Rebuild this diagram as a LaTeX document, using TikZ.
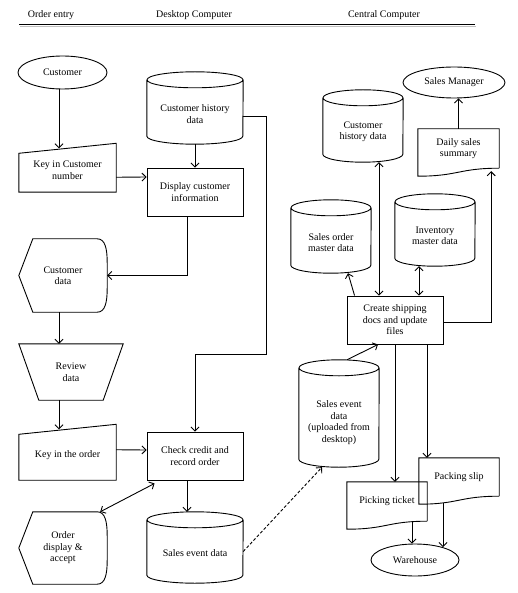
\documentclass[tikz,border=0pt]{standalone}
\usepackage{fontspec}
\setmainfont{Liberation Serif}
\usepackage{tikz}
\usetikzlibrary{shapes.geometric,arrows.meta}

\begin{document}
\begin{tikzpicture}[
    x=1pt, y=-1pt,
    every node/.style={font=\fontsize{10}{11.5}\selectfont, align=center, inner sep=0pt},
    pen/.style={line width=0.9pt},
    flow/.style={pen, -{Straight Barb[length=4pt,width=8pt]}},
    biflow/.style={pen, {Straight Barb[length=4pt,width=8pt]}-{Straight Barb[length=4pt,width=8pt]}},
    terminal/.style 2 args={ellipse, draw, pen, minimum width=#1, minimum height=#2},
    process/.style={rectangle, draw, pen, minimum width=96pt, minimum height=48pt},
    % cylinder, text sits #3 lower than the middle
    db/.style n args={3}{minimum width=#1, minimum height=#2-#3,
        append after command={\pgfextra{
            \draw[pen] ([yshift=#3-8pt]\tikzlastnode.north west) -- ([yshift=8pt]\tikzlastnode.south west)
                arc[start angle=180, end angle=360, x radius=#1/2, y radius=8pt]
                -- ([yshift=#3-8pt]\tikzlastnode.north east)
                ([yshift=#3-8pt]\tikzlastnode.north) ellipse[x radius=#1/2, y radius=8pt];}}},
    manual/.style={minimum width=97pt, minimum height=#1,
        append after command={\pgfextra{
            \draw[pen] ([yshift=-5pt]\tikzlastnode.north west) -- ([yshift=5pt]\tikzlastnode.north east)
                -- (\tikzlastnode.south east) -- (\tikzlastnode.south west) -- cycle;}}},
    manualop/.style={minimum width=104pt, minimum height=56pt,
        append after command={\pgfextra{
            \draw[pen] (\tikzlastnode.north west) -- (\tikzlastnode.north east)
                -- ([xshift=-20pt]\tikzlastnode.south east) -- ([xshift=20pt]\tikzlastnode.south west) -- cycle;}}},
    display/.style={minimum width=88pt, minimum height=#1,
        append after command={\pgfextra{
            \draw[pen] ([xshift=14pt]\tikzlastnode.north west) -- ([xshift=-10pt]\tikzlastnode.north east)
                .. controls ([xshift=-2pt]\tikzlastnode.north east) and ([yshift=-10pt]\tikzlastnode.north east) .. ([yshift=-24pt]\tikzlastnode.north east)
                -- ([yshift=24pt]\tikzlastnode.south east)
                .. controls ([yshift=10pt]\tikzlastnode.south east) and ([xshift=-2pt]\tikzlastnode.south east) .. ([xshift=-10pt]\tikzlastnode.south east)
                -- ([xshift=14pt]\tikzlastnode.south west) -- (\tikzlastnode.west) -- cycle;}}},
    doc/.style 2 args={minimum width=#1, minimum height=#2,
        append after command={\pgfextra{
            \draw[pen] (\tikzlastnode.south east) -- (\tikzlastnode.north east) -- (\tikzlastnode.north west)
                -- ([yshift=-8pt]\tikzlastnode.south west)
                .. controls ([xshift=#1/2,yshift=-8pt]\tikzlastnode.south west) and ([xshift=-#1/2]\tikzlastnode.south east) .. (\tikzlastnode.south east);}}}
]
\useasboundingbox (0,0) rectangle (517,593);

% headings
\node (hdrorder) at (51,15) {Order entry};
\node (hdrdesk) at (194,15) {Desktop Computer};
\node (hdrcentral) at (384,15) {Central Computer};
\draw[line width=1.5pt, black!25] (20,26.5) -- (476,26.5);
\draw[line width=1.8pt] (19,24.5) -- (475,24.5);

% order entry and desktop
\node[terminal={89pt}{33pt}] (cust) at (62.5,72.5) {Customer};
\node[db={96pt}{72pt}{12pt}] (hist) at (195,114) {Customer history\\data};
\node[manual=43.5pt] (keycust) at (67.5,170.25) {Key in Customer\\number};
\node[process] (disp) at (195,192) {Display customer\\information};
\node[display=73pt] (custdata) at (63,275.5) {Customer\\data};
\node[manualop] (review) at (71,372) {Review\\data};
\node[manual=50.5pt] (keyorder) at (67.5,454.75) {Key in the order};
\node[process] (check) at (195,456) {Check credit and\\record order};
\node[display=72pt] (orderdisp) at (63,548) {Order\\display \&\\accept};
\node[db={96pt}{71pt}{12pt}] (sed) at (195,553.5) {Sales event data};

% central computer
\node[terminal={102pt}{31pt}] (mgr) at (454,82.5) {Sales Manager};
\node[db={80pt}{72pt}{12pt}] (chist) at (363,132) {Customer\\history data};
\node[doc={81pt}{39pt}] (daily) at (458.5,148.5) {Daily sales\\summary};
\node[db={80pt}{73pt}{12pt}] (somd) at (331,242.5) {Sales order\\master data};
\node[db={80pt}{72pt}{12pt}] (inv) at (435,236) {Inventory\\master data};
\node[process] (create) at (395,320) {Create shipping\\docs and update\\files};
\node[db={80pt}{107pt}{18pt}] (csed) at (339,422.5) {Sales event\\data\\(uploaded from\\desktop)};
\node[doc={80pt}{38pt}] (pack) at (459,477) {Packing slip};
\node[doc={80pt}{39pt}] (pick) at (387,501.5) {Picking ticket};
\node[terminal={88pt}{32pt}] (ware) at (415,560) {Warehouse};

% connectors
\draw[flow] ([xshift=-3.5pt]cust.south) -- ([xshift=-8.5pt]keycust.north);
\draw[flow] ([yshift=-7pt]keycust.east) -- ([yshift=15pt]disp.west);
\draw[flow] (hist.south) -- (disp.north);
\draw[flow] ([yshift=-2pt]hist.east) -- ++(23,0) |- ([yshift=77pt]check.north) -- (check.north);
\draw[flow] ([xshift=-8pt]disp.south) |- (custdata.east);
\draw[flow] ([xshift=-4pt]custdata.south) -- ([xshift=-12pt]review.north);
\draw[flow] ([xshift=-12pt]review.south) -- ([xshift=-8.5pt]keyorder.north);
\draw[flow] ([yshift=5pt]keyorder.east) -- ([yshift=6pt]check.west);
\draw[flow] ([xshift=-8pt]check.south) -- ([xshift=-8pt,yshift=12pt]sed.north);
\draw[biflow] ([xshift=8pt,yshift=-3pt]check.south west) -- ([xshift=-7pt]orderdisp.north east);
\draw[flow, dash pattern=on 3pt off 2pt] ([yshift=2pt]sed.east) -- ([xshift=-17pt]csed.south);

\draw[flow] ([xshift=8pt,yshift=18pt]csed.north) -- ([xshift=-17pt]create.south);
\draw[biflow] ([xshift=16pt]chist.south) -- ([xshift=-16pt]create.north);
\draw[flow] ([xshift=8pt]create.north west) -- ([xshift=17pt]somd.south);
\draw[biflow] ([xshift=-16pt]inv.south) -- ([xshift=24pt]create.north);
\draw[flow] ([yshift=-2pt]create.east) -| ([xshift=-8pt,yshift=-3pt]daily.south east);
\draw[flow] (daily.north) -- ([xshift=4.5pt]mgr.south);
\draw[flow] (create.south) -- ([xshift=8pt]pick.north);
\draw[flow] ([xshift=32pt]create.south) -- ([xshift=-32pt]pack.north);
\draw[flow] ([xshift=25pt]pick.south) -- ([xshift=-3pt]ware.north);
\draw[flow] ([xshift=-16pt,yshift=-7pt]pack.south) -- ([xshift=28pt,yshift=-3.5pt]ware.north);
\end{tikzpicture}
\end{document}
